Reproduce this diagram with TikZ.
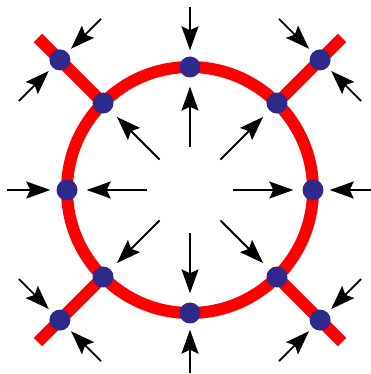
\documentclass[tikz,border=0pt]{standalone}
\usetikzlibrary{arrows.meta,calc}
\definecolor{dotblue}{RGB}{45,42,140}
\begin{document}
\begin{tikzpicture}[x=1pt,y=-1pt,
 ring/.style={red,line width=12pt},
 spoke/.style={red,line width=12pt},
 dot/.style={circle,fill=dotblue,minimum size=21pt,inner sep=0pt},
 arr/.style={line width=1.8pt,-{Stealth[length=24pt,width=17pt,inset=4pt]}}]
\useasboundingbox (0,0) rectangle (371,374);
\coordinate (c) at (190,190);
\draw[ring] (c) circle[radius=123];
\foreach \a in {45,135,225,315}{
  \draw[spoke] ($(c)+(\a:123)$) -- ($(c)+(\a:215)$);
}
% dots on the ring and inner arrows
\foreach \a [count=\i] in {0,45,...,315}{
  \node[dot] (d\i) at ($(c)+(\a:123)$) {};
  \coordinate (t\i) at ($(c)+(\a:43)$);
  \draw[arr,shorten >=9pt] (t\i) -- (d\i);
}
% outer radial arrows
\foreach \a [count=\i from 1] in {0,90,180,270}{
  \pgfmathtruncatemacro{\k}{2*\i-1}
  \coordinate (u\i) at ($(c)+(\a:183)$);
  \draw[arr,shorten >=6pt] (u\i) -- (d\k);
}
% outer dots on the spokes and their arrows
\foreach \a [count=\i] in {45,135,225,315}{
  \node[dot] (o\i) at ($(c)+(\a:184)$) {};
  \coordinate (p\i) at ($(o\i)+(\a+90:58)$);
  \coordinate (q\i) at ($(o\i)+(\a-90:58)$);
  \draw[arr,shorten >=5pt] (p\i) -- (o\i);
  \draw[arr,shorten >=5pt] (q\i) -- (o\i);
}
\end{tikzpicture}
\end{document}
